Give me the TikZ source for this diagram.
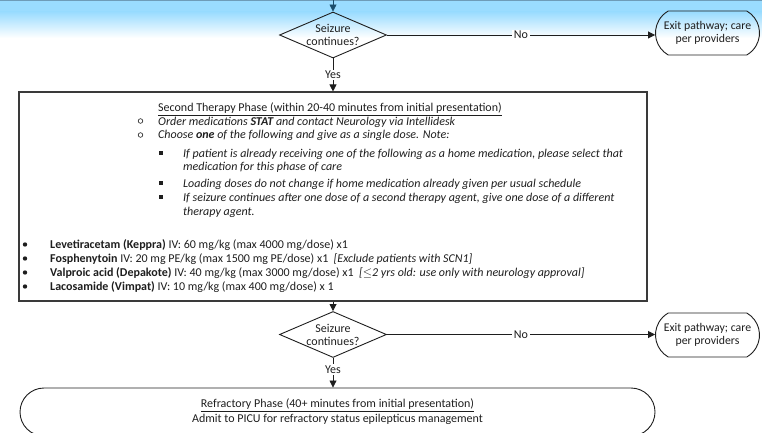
\documentclass[tikz,border=0pt]{standalone}
\usepackage{fontspec}
\setmainfont{Carlito}
\usetikzlibrary{arrows.meta,shapes.geometric,shapes.misc}
\definecolor{ink}{HTML}{1E1E1E}
\definecolor{edge}{HTML}{3A3A3A}
\definecolor{bandtop}{HTML}{9ADCFF}
\definecolor{bandline}{HTML}{6E9CB8}
\definecolor{tinted}{HTML}{1B4D6B}

\begin{document}
\begin{tikzpicture}[x=1pt,y=-1pt,
  font=\fontsize{12}{13}\selectfont,
  every node/.style={text=ink},
  conn/.style={draw=ink, line width=0.8pt},
  arr/.style={conn, -{Triangle[width=7pt,length=7pt]}},
  decision/.style={draw=ink, line width=0.9pt, shape=diamond, aspect=2.3,
    inner sep=0pt, minimum width=107pt, minimum height=46pt, align=center},
  exitbox/.style={draw=ink, line width=0.9pt, shape=rounded rectangle,
    rounded rectangle arc length=120, minimum width=104pt, minimum height=44pt,
    inner sep=0pt, align=center, font=\fontsize{11.8}{13}\selectfont},
  phasebox/.style={draw=edge, line width=1.1pt, rectangle, inner sep=0pt},
  lbl/.style={fill=white, inner sep=1.5pt},
  txt/.style={anchor=base west, inner sep=0pt},
  hollow/.style={draw=ink, circle, line width=0.6pt, inner sep=0pt, minimum size=4.6pt},
  sqbullet/.style={fill=ink, inner sep=0pt, minimum size=3.4pt},
  dotbullet/.style={fill=ink, circle, inner sep=0pt, minimum size=4.4pt},
]
\useasboundingbox (0,0) rectangle (762,433);

% header band
\fill[bandtop] (0,0) rectangle (762,12);
\shade[top color=bandtop, bottom color=white] (0,12) rectangle (762,38);
\fill[bandline] (0,0) rectangle (762,1.2);

% first decision
\coordinate (in) at (333,0);
\node[decision] (d1) at (333,35) {Seizure\\continues?};
\node[exitbox] (x1) at (707.5,33) {Exit pathway; care\\per providers};
\draw[arr, draw=tinted] (in) -- (d1.north);
\draw[arr] (d1.east) -- node[lbl]{No} (d1.east -| x1.west);

% second therapy phase
\node[phasebox, minimum width=628pt, minimum height=209pt] (p2) at (333,196.5) {};
\draw[arr] (d1.south) -- node[lbl]{Yes} (p2.north);

\node[txt] (t0) at (158,112) {\underline{Second Therapy Phase (within 20-40 minutes from initial presentation)}};
\node[hollow] (o1) at (140.5,121) {};
\node[txt] (t1) at (158,125) {\itshape Order medications \textbf{STAT} and contact Neurology via Intellidesk};
\node[hollow] (o2) at (140.5,135) {};
\node[txt] (t2) at (158,139) {\itshape Choose \textbf{one} of the following and give as a single dose. Note:};

\node[sqbullet] (s1) at (161,153) {};
\node[txt] (t3) at (183,157) {\itshape If patient is already receiving one of the following as a home medication, please select that};
\node[txt] (t4) at (183,170) {\itshape medication for this phase of care};
\node[sqbullet] (s2) at (161,183) {};
\node[txt] (t5) at (183,187) {\itshape Loading doses do not change if home medication already given per usual schedule};
\node[sqbullet] (s3) at (161,197) {};
\node[txt] (t6) at (183,201) {\itshape If seizure continues after one dose of a second therapy agent, give one dose of a different};
\node[txt] (t7) at (183,215) {\itshape therapy agent.};

\node[dotbullet] (r1) at (25,244.5) {};
\node[txt] (m1) at (50,248.5) {\textbf{Levetiracetam (Keppra)} IV: 60 mg/kg (max 4000 mg/dose) x1};
\node[dotbullet] (r2) at (25,258.5) {};
\node[txt] (m2) at (50,262.5) {\textbf{Fosphenytoin} IV: 20 mg PE/kg (max 1500 mg PE/dose) x1\ \ \textit{[Exclude patients with SCN1]}};
\node[dotbullet] (r3) at (25,272.5) {};
\node[txt] (m3) at (50,276.5) {\textbf{Valproic acid (Depakote)} IV: 40 mg/kg (max 3000 mg/dose) x1\ \ \textit{[$\leq$2 yrs old: use only with neurology approval]}};
\node[dotbullet] (r4) at (25,286.5) {};
\node[txt] (m4) at (50,290.5) {\textbf{Lacosamide (Vimpat)} IV: 10 mg/kg (max 400 mg/dose) x 1};

% second decision
\node[decision] (d2) at (333,334.5) {Seizure\\continues?};
\node[exitbox] (x2) at (707.5,335) {Exit pathway; care\\per providers};
\draw[arr] (p2.south) -- (d2.north);
\draw[arr] (d2.east) -- node[lbl]{No} (d2.east -| x2.west);

% refractory phase
\node[draw=ink, line width=0.9pt, shape=rounded rectangle, minimum width=635pt,
  minimum height=48pt, inner sep=0pt, align=center] (rf) at (337.5,412)
  {\underline{Refractory Phase (40+ minutes from initial presentation)}\\[2pt]
   Admit to PICU for refractory status epilepticus management};
\draw[arr] (d2.south) -- node[lbl, pos=0.4]{Yes} (d2.south |- rf.north);
\end{tikzpicture}
\end{document}
